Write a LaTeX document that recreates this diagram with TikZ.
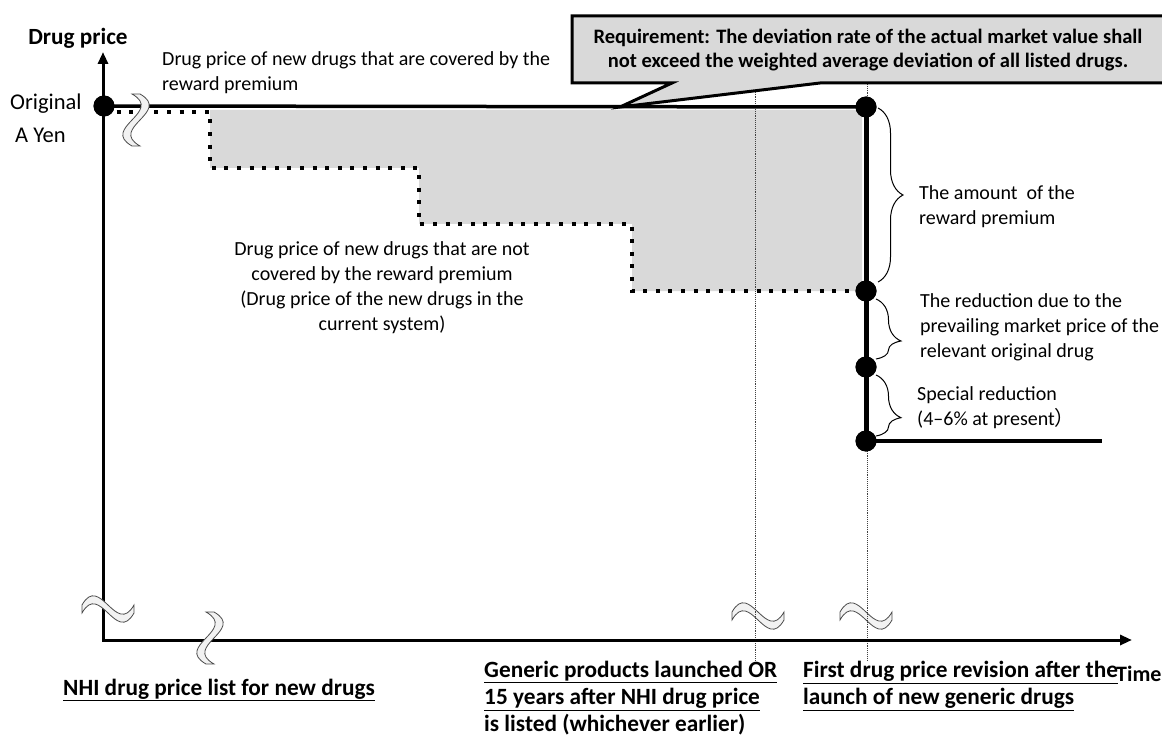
\documentclass[tikz,border=0pt]{standalone}
\usepackage{fontspec}
\setmainfont{Carlito}
\newfontfamily\cjkfont{Noto Sans CJK JP}
\usetikzlibrary{decorations.pathreplacing,arrows.meta}
\tikzset{
  txt/.style={font=\fontsize{20}{25}\selectfont, inner sep=0pt, align=left},
  bld/.style={font=\fontsize{23.3}{27}\selectfont\bfseries, inner sep=0pt, align=left},
  dotnode/.style={circle, fill=black, minimum size=21pt, inner sep=0pt},
  axisline/.style={line width=3pt, {Triangle[length=12pt,width=10pt]}-{Triangle[length=12pt,width=10pt]}},
  priceline/.style={line width=4pt},
  stepline/.style={line width=4pt, dash pattern=on 4pt off 8.6pt},
  guideline/.style={line width=0.9pt, densely dotted, black!75},
  bracestyle/.style={decorate, line width=1pt, decoration={brace, amplitude=25pt, aspect=#1}},
  brk/.pic={
    \path[fill=gray!10, draw=black!70, line width=0.8pt]
      (-26,-4) .. controls (-8,-36) and (8,28) .. (26,-4) --
      (26,4) .. controls (8,36) and (-8,-28) .. (-26,4) -- cycle;
  }
}
\begin{document}
\begin{tikzpicture}[x=1pt,y=-1pt]
\useasboundingbox (0,0) rectangle (1162,738);

% coordinates
\coordinate (O) at (103,640);
\coordinate (ytip) at (103,52);
\coordinate (xtip) at (1132,640);
\coordinate (endR) at (1102,441);

% gray area
\fill[gray!30] (210,110) -- (862,110) -- (862,291) -- (632,291) -- (632,224)
  -- (419,224) -- (419,168) -- (210,168) -- cycle;

% break marks on guides
\pic at (758,616) {brk};
\pic at (866,616) {brk};

% guides
\draw[guideline] (755,88) -- (755,660);
\draw[guideline] (867,84) -- (867,660);

% callout
\draw[line width=3pt, fill=gray!30, line join=miter]
  (572,16) -- (1180,16) -- (1180,83) -- (820,83) -- (620,107) -- (672,83) -- (572,83) -- cycle;
\node[font=\fontsize{20.5}{24.5}\selectfont\bfseries, align=center, inner sep=0pt] (req) at (868,50)
  {Requirement: The deviation rate of the actual market value shall\\
   not exceed the weighted average deviation of all listed drugs.};

% dots (positions)
\node[dotnode] (origA) at (104,106) {};
\node[dotnode] (d1) at (866,107) {};
\node[dotnode] (d2) at (866,291) {};
\node[dotnode] (d3) at (866,367) {};
\node[dotnode] (d4) at (866,441) {};

% stepped dotted line
\draw[stepline] (origA.center) ++(0,6) -- (210,112) -- (210,168) -- (419,168) -- (419,224)
  -- (632,224) -- (632,291) -- (d2.center);

% solid lines
\draw[line width=3.5pt] (origA.center) -- (d1.center);
\draw[line width=5pt] (d1.center) -- (d4.center);
\draw[priceline] (d4.center) -- (endR);

% axes
\draw[axisline] (xtip) -- (O) -- (ytip);

% axis/line break marks
\pic[rotate=-90] at (136,120) {brk};
\pic at (108,609) {brk};
\pic[rotate=-90] at (210,638) {brk};

% dots on top
\foreach \n in {origA,d1,d2,d3,d4} \fill (\n) circle (10.5pt);

% braces
\draw[bracestyle=0.5] (878,108) -- (878,282);
\draw[bracestyle=0.7] (876,299) -- (876,359);
\draw[bracestyle=0.7] (876,375) -- (876,436);

% labels
\node[font=\fontsize{23.2}{26}\selectfont\bfseries, inner sep=0pt] (ylab) at (78,38) {Drug price};
\node[font=\fontsize{22.5}{26}\selectfont, inner sep=0pt, anchor=west] (orig) at (10,104) {Original};
\node[font=\fontsize{22.5}{26}\selectfont, inner sep=0pt, anchor=west] (ayen) at (15,135) {A Yen};
\node[txt, anchor=west] (covered) at (162,73) {Drug price of new drugs that are covered by the\\reward premium};
\node[txt, align=center] (notcov) at (382,288) {Drug price of new drugs that are not\\covered by the reward premium\\(Drug price of the new drugs in the\\current system)};
\node[txt, anchor=west] (amount) at (919,207) {The amount\ \ of the\\reward premium};
\node[txt, anchor=west] (reduct) at (920,327) {The reduction due to the\\prevailing market price of the\\relevant original drug};
\node[txt, anchor=west] (special) at (917,408) {Special reduction\\(4–6\% at present{\cjkfont ）}};

\node[bld, anchor=west] (nhi) at (63,690) {\underline{NHI drug price list for new drugs}};
\node[bld, anchor=west] (generic) at (484,698) {\underline{Generic products launched OR}\\\underline{15 years after NHI drug price}\\is listed (whichever earlier)};
\node[bld, anchor=west] (first) at (803,686) {\underline{First drug price revision after the}\\\underline{launch of new generic drugs}};
\node[font=\fontsize{22}{25}\selectfont\bfseries, inner sep=0pt, anchor=west] (time) at (1116,674) {Time};
\end{tikzpicture}
\end{document}
